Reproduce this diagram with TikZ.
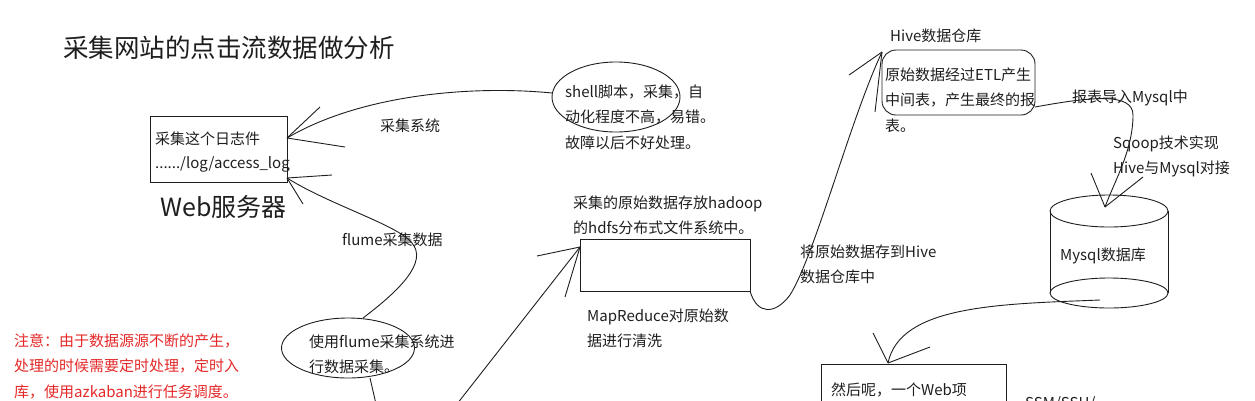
\documentclass[tikz,border=0pt]{standalone}
\usepackage{fontspec}
\setmainfont{Noto Sans CJK SC}
\usetikzlibrary{shapes.geometric}
\definecolor{ink}{RGB}{30,30,30}
\definecolor{note}{RGB}{228,40,40}
\begin{document}
\begin{tikzpicture}[x=1pt,y=-1pt,
  txt/.style={inner sep=0pt, anchor=north west, align=left, text=ink, font=\fontsize{15}{25.5}\selectfont},
  lbl/.style={inner sep=0pt, anchor=west, text=ink, font=\fontsize{15}{25.5}\selectfont},
  conn/.style={draw=ink, line width=0.9pt},
  shapebox/.style={draw=ink, line width=0.9pt, inner sep=0pt}]
\useasboundingbox (0,0) rectangle (1255,400);
\clip (0,0) rectangle (1255,400);

% title
\node[anchor=west, inner sep=0pt, text=ink, font=\fontsize{25.5}{30}\selectfont] (title) at (63,48) {采集网站的点击流数据做分析};

% web server box
\node[shapebox, minimum width=137pt, minimum height=66pt] (webbox) at (218.5,149) {};
\node[txt, font=\fontsize{15}{24}\selectfont] (webtxt) at (155,131.5) {采集这个日志件\\....../log/access\_log};
\node[anchor=west, inner sep=0pt, text=ink, font=\fontsize{25}{30}\selectfont] (websrv) at (160,207) {Web服务器};

% shell ellipse
\node[shapebox, ellipse, minimum width=128pt, minimum height=70pt] (shell) at (616,97) {};
\node[txt] (shelltxt) at (565,84.5) {shell脚本，采集，自\\动化程度不高，易错。\\故障以后不好处理。};
\node[lbl] (cjxt) at (380,126) {采集系统};

% flume
\node[shapebox, ellipse, minimum width=133pt, minimum height=60pt] (flume) at (348,348) {};
\node[txt] (flumetxt) at (309,334.5) {使用flume采集系统进\\行数据采集。};
\node[lbl] (flumelbl) at (342,240) {flume采集数据};

% red note
\node[txt, text=note] (note) at (14,333.5) {注意：由于数据源源不断的产生，\\处理的时候需要定时处理，定时入\\库，使用azkaban进行任务调度。};

% hdfs box
\node[shapebox, minimum width=170pt, minimum height=52pt] (hdfs) at (665,265) {};
\node[txt] (hdfstxt) at (573,195.5) {采集的原始数据存放hadoop\\的hdfs分布式文件系统中。};
\node[txt] (mrtxt) at (587,308.5) {MapReduce对原始数\\据进行清洗};
\node[txt] (tohive) at (800,244.5) {将原始数据存到Hive\\数据仓库中};

% hive box
\node[lbl] (hivettl) at (890,36) {Hive数据仓库};
\node[shapebox, rounded corners=14pt, minimum width=153pt, minimum height=65pt] (hive) at (958.5,82.5) {};
\node[txt] (hivetxt) at (885,67.5) {原始数据经过ETL产生\\中间表，产生最终的报\\表。};
\node[lbl] (bbdr) at (1072,98) {报表导入Mysql中};
\node[txt] (sqoop) at (1113,135.5) {Sqoop技术实现\\Hive与Mysql对接};

% mysql cylinder
\draw[conn] (1109,211) ellipse [x radius=59pt, y radius=16pt];
\draw[conn] (1050,211) -- (1050,293);
\draw[conn] (1168,211) -- (1168,293);
\draw[conn] (1109,293) ellipse [x radius=59pt, y radius=15pt];
\node[lbl] (mysqltxt) at (1060,256) {Mysql数据库};

% web project box
\node[shapebox, minimum width=185pt, minimum height=80pt, anchor=north west] (webproj) at (821,364) {};
\node[txt] (webprojtxt) at (831,382.5) {然后呢，一个Web项};
\node[lbl] (ssm) at (1025,404) {SSM/SSH/};

% coordinates
\coordinate (tA) at (287,138);
\coordinate (sA) at (552,93);
\coordinate (tB) at (287,178);
\coordinate (sB) at (363,318);
\coordinate (sC) at (370,378);
\coordinate (eC) at (376,404);
\coordinate (sD) at (457,404);
\coordinate (tD) at (580,247);
\coordinate (sE) at (750,291);
\coordinate (tE) at (882,52);
\coordinate (sF) at (1035,107);
\coordinate (tF) at (1105,207);
\coordinate (sG) at (1100,300);
\coordinate (tG) at (888,363);

% A: shell -> web box
\draw[conn] (sA) .. controls (470,85) and (360,95) .. (tA);
\draw[conn] (tA) -- ++(33,-31);
\draw[conn] (tA) -- ++(58,9);

% B: flume -> web box
\draw[conn] (sB) .. controls (400,290) and (428,262) .. (412,243) .. controls (398,225) and (330,205) .. (tB);
\draw[conn] (tB) -- ++(45,-3);
\draw[conn] (tB) -- ++(16,26);

% C: flume downward
\draw[conn] (sC) -- (eC);

% D: to hdfs
\draw[conn] (sD) -- (tD);
\draw[conn] (tD) -- ++(-43,9);
\draw[conn] (tD) -- ++(-15,50);

% E: hdfs -> hive
\draw[conn] (sE) .. controls (757,315) and (775,315) .. (790,295) .. controls (815,255) and (850,120) .. (tE);
\draw[conn] (tE) -- ++(-33,23);
\draw[conn] (tE) -- ++(-7,60);

% F: hive -> mysql
\draw[conn] (sF) .. controls (1090,97) and (1133,92) .. (1133,115) .. controls (1133,150) and (1115,180) .. (tF);
\draw[conn] (tF) -- ++(-14,-34);
\draw[conn] (tF) -- ++(38,-30);

% G: mysql -> web project
\draw[conn] (sG) .. controls (1000,304) and (900,305) .. (tG);
\draw[conn] (tG) -- ++(-15,-30);
\draw[conn] (tG) -- ++(42,-16);
\end{tikzpicture}
\end{document}
